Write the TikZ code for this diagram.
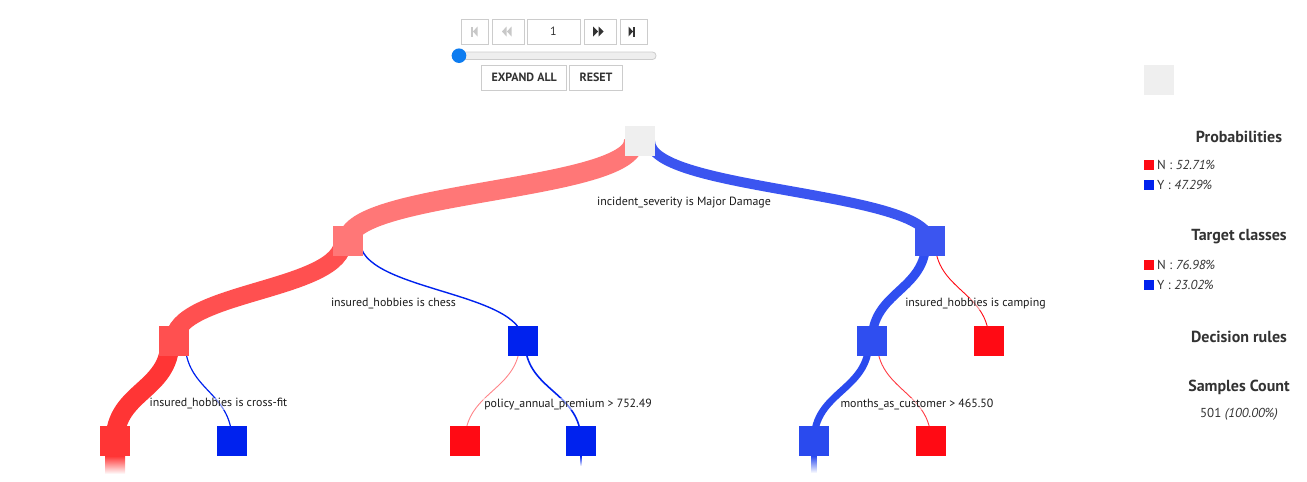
\documentclass[tikz,border=0pt]{standalone}
\usepackage{fontspec}
\setmainfont{PT Sans}
\usetikzlibrary{backgrounds,positioning}

\definecolor{rootgrey}{HTML}{EFEFEF}
\definecolor{redA}{HTML}{FF7777}
\definecolor{redB}{HTML}{FF5050}
\definecolor{redC}{HTML}{FF3535}
\definecolor{redP}{HTML}{FF0A14}
\definecolor{blueA}{HTML}{3B55F0}
\definecolor{blueB}{HTML}{2F4EF0}
\definecolor{blueC}{HTML}{2A4AEE}
\definecolor{blueP}{HTML}{0022EE}
\definecolor{knob}{HTML}{0D7CF0}
\definecolor{txt}{HTML}{333333}
\definecolor{ruletxt}{HTML}{1A1A1A}
\definecolor{btnline}{HTML}{CCCCCC}
\definecolor{trackgrey}{HTML}{EEEEEE}
\definecolor{icondim}{HTML}{C8C8C8}

\tikzset{
  treenode/.style={minimum size=30pt, inner sep=0pt, outer sep=0pt, fill=#1},
  rule/.style={font=\fontsize{11.9}{14}\selectfont, text=ruletxt, fill=white,
    fill opacity=0.5, text opacity=1, inner sep=1pt},
  link/.style={line width=#1},
  btn/.style={draw=btnline, line width=0.8pt, minimum height=25pt, inner sep=0pt,
    font=\bfseries\fontsize{12}{14}\selectfont, text=txt},
  heading/.style={font=\bfseries\fontsize{16}{18}\selectfont, text=txt},
  legtext/.style={font=\fontsize{13}{15}\selectfont, text=txt, inner sep=0pt},
  swatch/.style={minimum size=10pt, inner sep=0pt, outer sep=0pt, fill=#1}
}

\begin{document}
\begin{tikzpicture}[x=1pt,y=-1pt]
\useasboundingbox (0,0) rectangle (1307,482);

% player controls
\node[btn, minimum width=27pt] (first) at (475,31.5) {};
\node[btn, minimum width=32pt] (prev) at (508.5,31.5) {};
\node[btn, minimum width=53pt, font=\fontsize{12}{14}\selectfont] (stepno) at (553.5,31.5) {1};
\node[btn, minimum width=32pt] (next) at (600,31.5) {};
\node[btn, minimum width=27pt] (last) at (633.5,31.5) {};
\fill[icondim] (471,26.5) rectangle (473,36.5);
\fill[icondim] (477.5,26.5) -- (477.5,36.5) -- (473,31.5) -- cycle;
\fill[icondim] (506.5,26.5) -- (506.5,36.5) -- (502,31.5) -- cycle;
\fill[icondim] (511.5,26.5) -- (511.5,36.5) -- (507,31.5) -- cycle;
\fill[txt] (593,26.5) -- (593,36.5) -- (598,31.5) -- cycle;
\fill[txt] (598.5,26.5) -- (598.5,36.5) -- (603.5,31.5) -- cycle;
\fill[txt] (628.5,26.5) -- (628.5,36.5) -- (633,31.5) -- cycle;
\fill[txt] (633,26.5) rectangle (635,36.5);

% slider
\draw[btnline, fill=trackgrey, line width=0.8pt, rounded corners=3.5pt] (452,52) rectangle (656,59.5);
\fill[knob] (459,55.7) circle (7.3);

\node[btn, minimum width=85pt] (expand) at (524.2,77.5) {EXPAND ALL};
\node[btn, minimum width=53.5pt] (reset) at (596,77.5) {RESET};

% tree nodes
\node[treenode=rootgrey] (root) at (640,141) {};
\node[treenode=redA] (l1a) at (348,241) {};
\node[treenode=blueA] (l1b) at (930,241) {};
\node[treenode=redB] (l2a) at (174,341) {};
\node[treenode=blueP] (l2b) at (523,341) {};
\node[treenode=blueB] (l2c) at (872,341) {};
\node[treenode=redP] (l2d) at (989,341) {};
\node[treenode=redC] (l3a) at (115,441) {};
\node[treenode=blueP] (l3b) at (232,441) {};
\node[treenode=redP] (l3c) at (465,441) {};
\node[treenode=blueP] (l3d) at (581,441) {};
\node[treenode=blueC] (l3e) at (814,441) {};
\node[treenode=redP] (l3f) at (931,441) {};

% links behind the nodes
\begin{pgfonlayer}{background}
\draw[link=20, redA] ([xshift=-6pt]root.center) .. controls +(0,50) and +(0,-50) .. (l1a.center);
\draw[link=10, blueA] ([xshift=10pt]root.center) .. controls +(0,50) and +(0,-50) .. (l1b.center);
\draw[link=18, redB] ([xshift=-5pt]l1a.center) .. controls +(0,50) and +(0,-50) .. (l2a.center);
\draw[link=1.4, blueP] ([xshift=12pt]l1a.center) .. controls +(0,50) and +(0,-50) .. (l2b.center);
\draw[link=9, blueB] ([xshift=-4pt]l1b.center) .. controls +(0,50) and +(0,-50) .. (l2c.center);
\draw[link=0.9, redP] ([xshift=5pt]l1b.center) .. controls +(0,50) and +(0,-50) .. (l2d.center);
\draw[link=19, redC] ([xshift=-4pt]l2a.center) .. controls +(0,50) and +(0,-50) .. (l3a.center);
\draw[link=1.2, blueP] ([xshift=11pt]l2a.center) .. controls +(0,50) and +(0,-50) .. (l3b.center);
\draw[link=0.9, redP!50] ([xshift=-3pt]l2b.center) .. controls +(0,50) and +(0,-50) .. (l3c.center);
\draw[link=1.6, blueP] ([xshift=2pt]l2b.center) .. controls +(0,50) and +(0,-50) .. (l3d.center);
\draw[link=7, blueC] ([xshift=-3pt]l2c.center) .. controls +(0,50) and +(0,-50) .. (l3e.center);
\draw[link=0.9, redP!80] ([xshift=5pt]l2c.center) .. controls +(0,50) and +(0,-50) .. (l3f.center);
\end{pgfonlayer}

% fading stubs below the deepest nodes
\shade[top color=redC, bottom color=white] ([xshift=-10pt]l3a.south) rectangle ([xshift=10pt,yshift=-18pt]l3a.south);
\shade[top color=blueP, bottom color=white] ([xshift=-0.8pt]l3d.south) rectangle ([xshift=0.8pt,yshift=-10pt]l3d.south);
\shade[top color=blueC, bottom color=white] ([xshift=-2.8pt]l3e.south) rectangle ([xshift=2.8pt,yshift=-17pt]l3e.south);

% split rules
\node[rule] (r0) at (684,203) {incident\_severity is Major Damage};
\node[rule] (r1) at (393.5,304) {insured\_hobbies is chess};
\node[rule] (r2) at (975.5,304) {insured\_hobbies is camping};
\node[rule] (r3) at (218.5,404) {insured\_hobbies is cross-fit};
\node[rule] (r4) at (568,404) {policy\_annual\_premium > 752.49};
\node[rule] (r5) at (917,404) {months\_as\_customer > 465.50};

% legend
\node[treenode=rootgrey] (selnode) at (1159,80) {};
\node[heading] (probhead) at (1239,137) {Probabilities};
\node[swatch=redP] (probn) at (1149,164.5) {};
\node[legtext, right=3pt of probn] (probntxt) {N : \textit{52.71\%}};
\node[swatch=blueP] (proby) at (1149,184.5) {};
\node[legtext, right=3pt of proby] (probytxt) {Y : \textit{47.29\%}};
\node[heading] (tarhead) at (1239,237) {Target classes};
\node[swatch=redP] (tarn) at (1149,264.5) {};
\node[legtext, right=3pt of tarn] (tarntxt) {N : \textit{76.98\%}};
\node[swatch=blueP] (tary) at (1149,284.5) {};
\node[legtext, right=3pt of tary] (tarytxt) {Y : \textit{23.02\%}};
\node[heading] (rulehead) at (1239,337) {Decision rules};
\node[heading] (samphead) at (1239,387) {Samples Count};
\node[legtext] (sampcount) at (1239,414) {501 \textit{(100.00\%)}};
\end{tikzpicture}
\end{document}
